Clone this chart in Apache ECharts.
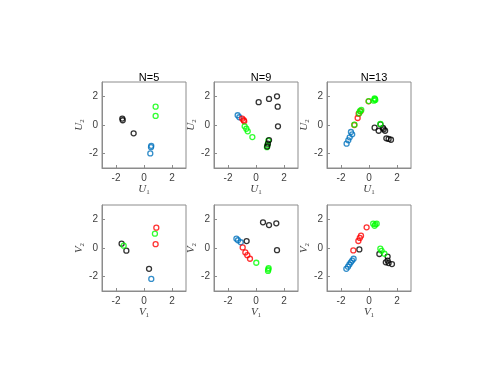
<!DOCTYPE html>
<html>
<head>
<meta charset="utf-8">
<script src="https://cdn.jsdelivr.net/npm/echarts@6/dist/echarts.min.js"></script>
<style>
  html, body { margin: 0; padding: 0; background: #fff; }
  #chart { width: 498px; height: 385px; }
</style>
</head>
<body>
<div id="chart"></div>
<script>
// Panel titles and tick values
const titles = ['N=5', 'N=9', 'N=13'];
const tickValues = [-2, 0, 2];

// Top row (U) points
const u5Black = [[-1.55, 0.45], [-1.52, 0.33], [-0.74, -0.58]];
const u5Green = [[0.83, 1.28], [0.83, 0.63]];
const u5Blue = [[0.52, -1.45], [0.50, -1.55], [0.45, -1.98]];

const u9Black = [[0.19, 1.59], [0.93, 1.82], [1.50, 2.00], [1.55, 1.28], [1.57, -0.09],
                 [0.93, -1.05], [0.85, -1.30], [0.80, -1.50]];
const u9Blue = [[-1.31, 0.68], [-1.19, 0.54]];
const u9Red = [[-0.98, 0.44], [-0.88, 0.33], [-0.84, 0.26]];
const u9Green = [[-0.81, -0.09], [-0.69, -0.26], [-0.59, -0.44], [-0.26, -0.84],
                 [0.88, -1.10], [0.82, -1.40], [0.78, -1.55]];

const u13Green = [[0.35, 1.70], [0.42, 1.80], [0.45, 1.75], [0.40, 1.85], [-0.02, 1.67],
                  [-0.65, 0.97], [-0.70, 0.82], [-0.55, 1.05], [-1.04, 0.02], [0.81, 0.07]];
const u13Red = [[-0.03, 1.65], [-0.60, 0.96], [-0.74, 0.79], [-0.81, 0.49], [-1.05, 0.00]];
const u13Blue = [[-1.20, -0.65], [-1.29, -0.49], [-1.38, -0.86], [-1.48, -1.07], [-1.60, -1.30]];
const u13Black = [[0.40, -0.19], [0.69, -0.40], [0.82, 0.05], [1.00, -0.20], [1.15, -0.40],
                  [1.05, -0.30], [1.24, -0.93], [1.40, -0.97], [1.57, -1.03]];

// Bottom row (V) points
const v5Red = [[0.88, 1.42], [0.83, 0.27]];
const v5Green = [[0.78, 1.00], [-1.45, 0.16]];
const v5Black = [[-1.60, 0.30], [-1.26, -0.19], [0.36, -1.45]];
const v5Blue = [[0.52, -2.16]];

const v9Black = [[0.50, 1.79], [0.93, 1.60], [1.45, 1.72], [1.50, -0.15], [-0.67, 0.48]];
const v9Blue = [[-1.40, 0.65], [-1.29, 0.54], [-1.09, 0.40]];
const v9Red = [[-0.95, 0.04], [-0.76, -0.31], [-0.62, -0.50], [-0.43, -0.75]];
const v9Green = [[0.02, -1.03], [0.90, -1.40], [0.88, -1.50], [0.86, -1.60]];

const v13Green = [[0.30, 1.70], [0.45, 1.65], [0.55, 1.70], [0.40, 1.55],
                  [0.81, -0.05], [0.90, -0.20], [1.10, -0.40]];
const v13Red = [[-0.17, 1.44], [-0.57, 0.86], [-0.66, 0.70], [-0.76, 0.49], [-1.12, -0.17]];
const v13Black = [[-0.69, -0.10], [0.74, -0.42], [1.33, -0.60], [1.33, -0.88],
                  [1.40, -1.05], [1.64, -1.12], [1.20, -1.00]];
const v13Blue = [[-1.10, -0.75], [-1.20, -0.88], [-1.30, -1.00], [-1.40, -1.15], [-1.50, -1.30], [-1.62, -1.45]];

const COLORS = { black: '#000000', green: '#00ff00', blue: '#0072bd', red: '#ff0000' };

const panels = [
  { row: 0, col: 0, sets: [['blue', u5Blue], ['green', u5Green], ['black', u5Black]] },
  { row: 0, col: 1, sets: [['blue', u9Blue], ['red', u9Red], ['green', u9Green], ['black', u9Black]] },
  { row: 0, col: 2, sets: [['blue', u13Blue], ['black', u13Black], ['red', u13Red], ['green', u13Green]] },
  { row: 1, col: 0, sets: [['blue', v5Blue], ['black', v5Black], ['green', v5Green], ['red', v5Red]] },
  { row: 1, col: 1, sets: [['blue', v9Blue], ['red', v9Red], ['green', v9Green], ['black', v9Black]] },
  { row: 1, col: 2, sets: [['blue', v13Blue], ['black', v13Black], ['red', v13Red], ['green', v13Green]] }
];

const LEFTS = [102, 214, 327];
const TOPS = [82, 205];
const W = 84, H = 86;

const grids = [], xAxes = [], yAxes = [], series = [], titleOpts = [];

function axisName(letter, idx) {
  return '{i|' + letter + '}{s|' + idx + '}';
}
const nameRich = {
  i: { fontFamily: 'Liberation Serif', fontStyle: 'italic', fontSize: 11, color: '#404040' },
  s: { fontFamily: 'Liberation Serif', fontSize: 7, color: '#404040', verticalAlign: 'bottom', padding: [6, 0, 0, 0] }
};

panels.forEach((p, k) => {
  const letter = p.row === 0 ? 'U' : 'V';
  grids.push({ left: LEFTS[p.col], top: TOPS[p.row], width: W, height: H,
    show: true, borderColor: '#8c8c8c', borderWidth: 1, backgroundColor: '#fff' });
  const common = {
    gridIndex: k, type: 'value', min: -3, max: 3,
    axisLine: { show: true, onZero: false, lineStyle: { color: '#8c8c8c', width: 1 } },
    axisTick: { show: true, inside: true, length: 3, customValues: tickValues, lineStyle: { color: '#8c8c8c' } },
    splitLine: { show: false },
    nameLocation: 'middle',
    nameTextStyle: { rich: nameRich }
  };
  xAxes.push(Object.assign({}, common, {
    name: axisName(letter, 1), nameGap: 14,
    axisLabel: { customValues: tickValues, fontFamily: 'Liberation Sans', fontSize: 10, color: '#404040', margin: 5 }
  }));
  yAxes.push(Object.assign({}, common, {
    name: axisName(letter, 2), nameGap: 15, nameRotate: 90,
    axisLabel: { customValues: tickValues, fontFamily: 'Liberation Sans', fontSize: 10, color: '#404040', margin: 4 }
  }));
  if (p.row === 0) {
    titleOpts.push({ text: titles[p.col], left: LEFTS[p.col] + W / 2, top: 67, textAlign: 'center',
      textStyle: { fontFamily: 'Liberation Sans', fontSize: 11, fontWeight: 'normal', color: '#000' } });
  }
  p.sets.forEach(([c, pts]) => {
    series.push({
      type: 'scatter', xAxisIndex: k, yAxisIndex: k, data: pts,
      symbol: 'circle', symbolSize: 5,
      itemStyle: { color: 'rgba(0,0,0,0)', borderColor: COLORS[c], borderWidth: 1.3 },
      silent: true
    });
  });
});

const chart = echarts.init(document.getElementById('chart'), null, { renderer: 'canvas' });
chart.setOption({
  animation: false,
  backgroundColor: '#fff',
  title: titleOpts,
  grid: grids,
  xAxis: xAxes,
  yAxis: yAxes,
  series: series
});
</script>
</body>
</html>
